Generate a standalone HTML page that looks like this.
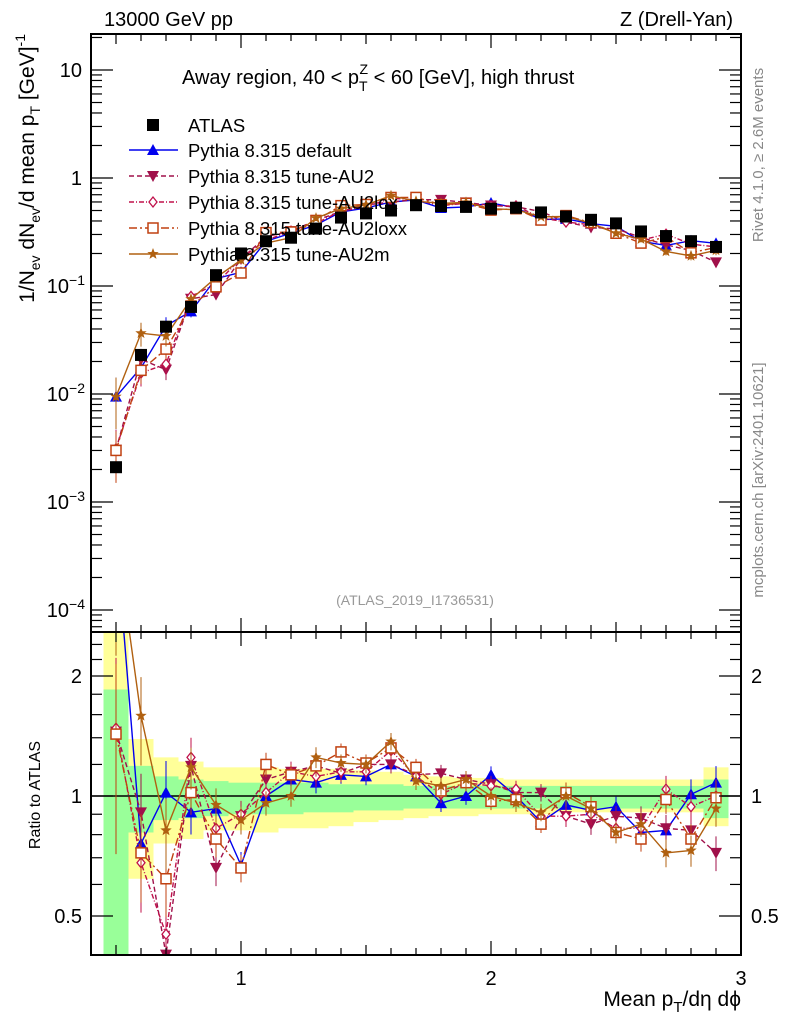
<!DOCTYPE html>
<html><head><meta charset="utf-8"><style>
body{margin:0;background:#fff;}
svg{display:block;font-family:"Liberation Sans","DejaVu Sans",sans-serif;}
</style></head><body>
<svg id="c" width="786" height="1024" viewBox="0 0 786 1024" xmlns="http://www.w3.org/2000/svg"></svg>
<script>
const xs=[0.5,0.6,0.7,0.8,0.9,1.0,1.1,1.2,1.3,1.4,1.5,1.6,1.7,1.8,1.9,2.0,2.1,2.2,2.3,2.4,2.5,2.6,2.7,2.8,2.9];
const dataVals=[0.0021,0.023,0.042,0.064,0.126,0.20,0.26,0.28,0.34,0.43,0.47,0.50,0.56,0.55,0.54,0.52,0.53,0.48,0.44,0.41,0.38,0.32,0.29,0.26,0.23];
const rDefault=[4.5,0.76,1.02,0.91,0.93,0.67,1.0,1.10,1.08,1.13,1.12,1.20,1.12,0.96,1.0,1.13,1.0,0.86,0.95,0.92,0.94,0.81,0.82,1.01,1.08];
const rAU2=[1.45,0.91,0.40,1.19,0.66,0.89,1.10,1.15,1.19,1.14,1.20,1.20,1.13,1.14,1.10,1.07,1.02,1.02,0.89,0.85,0.89,0.88,0.83,0.82,0.72];
const rAU2lox=[1.48,0.68,0.45,1.25,0.83,0.90,1.02,1.15,1.12,1.15,1.15,1.30,1.12,1.01,1.08,1.06,1.04,0.89,0.89,0.90,0.83,0.83,1.04,0.94,1.0];
const rAU2loxx=[1.43,0.72,0.62,1.02,0.78,0.66,1.20,1.13,1.19,1.29,1.21,1.32,1.18,1.03,1.08,0.97,0.98,0.85,1.02,0.94,0.81,0.78,0.98,0.78,0.99];
const rAU2m=[4.5,1.59,0.82,1.18,0.95,0.87,0.96,1.0,1.25,1.21,1.20,1.37,1.09,1.06,1.10,1.0,0.96,0.91,1.0,0.93,0.81,0.85,0.72,0.73,0.93];
const yellowUp=[2.6,1.39,1.25,1.22,1.18,1.18,1.18,1.17,1.17,1.17,1.16,1.15,1.13,1.12,1.11,1.11,1.10,1.10,1.10,1.10,1.10,1.10,1.10,1.10,1.18];
const yellowDn=[0.4,0.62,0.76,0.78,0.82,0.82,0.81,0.83,0.83,0.84,0.86,0.87,0.88,0.89,0.89,0.90,0.90,0.90,0.91,0.91,0.91,0.91,0.91,0.91,0.84];
const greenUp=[1.85,1.19,1.12,1.10,1.09,1.08,1.08,1.08,1.08,1.07,1.07,1.07,1.06,1.06,1.06,1.06,1.06,1.06,1.06,1.06,1.06,1.06,1.06,1.06,1.10];
const greenDn=[0.4,0.81,0.87,0.88,0.89,0.90,0.90,0.90,0.91,0.91,0.92,0.92,0.93,0.93,0.93,0.93,0.93,0.93,0.93,0.93,0.93,0.93,0.93,0.93,0.88];
const mcErr=[0.5,0.25,0.2,0.12,0.1,0.08,0.07,0.06,0.06,0.05,0.05,0.05,0.05,0.05,0.05,0.05,0.05,0.05,0.06,0.06,0.06,0.07,0.08,0.09,0.1];
const legendLabels=["ATLAS","Pythia 8.315 default","Pythia 8.315 tune-AU2","Pythia 8.315 tune-AU2lox","Pythia 8.315 tune-AU2loxx","Pythia 8.315 tune-AU2m"];

const L=91,R=741,T=34,MB=632,RB=955;
const X=v=>L+(v-0.4)*250;
const Y=v=>178-108*Math.log10(v);
const RY=v=>796-120*Math.log2(v);
const NS="http://www.w3.org/2000/svg";
const svg=document.getElementById('c');
function mk(tag,at,parent){const e=document.createElementNS(NS,tag);for(const k in at)e.setAttribute(k,at[k]);(parent||svg).appendChild(e);return e;}
function txt(s,x,y,size,extra,parent){const t=mk('text',Object.assign({x:x,y:y,'font-size':size},extra||{}),parent);t.innerHTML=s;return t;}

const defs=mk('defs',{});
const cp1=mk('clipPath',{id:'cm'},defs);mk('rect',{x:L,y:T,width:R-L,height:MB-T},cp1);
const cp2=mk('clipPath',{id:'cr'},defs);mk('rect',{x:L,y:MB,width:R-L,height:RB-MB},cp2);
const gMain=mk('g',{'clip-path':'url(#cm)'});


const gRat=mk('g',{'clip-path':'url(#cr)'});



xs.forEach((x,i)=>{
  const r1=mk('rect',{x:X(x-0.05),width:X(x+0.05)-X(x-0.05),y:RY(yellowUp[i]),height:RY(yellowDn[i])-RY(yellowUp[i]),fill:'#ffff99'},gRat);
  
  
  const r2=mk('rect',{x:X(x-0.05),width:X(x+0.05)-X(x-0.05),y:RY(greenUp[i]),height:RY(greenDn[i])-RY(greenUp[i]),fill:'#99ff99'},gRat);
  
  
});
mk('line',{x1:L,x2:R,y1:RY(1),y2:RY(1),stroke:'#000','stroke-width':1.5},gRat);

function marker(g,type,cx,cy,col){
  let e;
  if(type==='sq')e=mk('rect',{x:cx-6,y:cy-6,width:12,height:12,fill:'#000'},g);
  else if(type==='up')e=mk('polygon',{points:`${cx},${cy-6} ${cx-6},${cy+5} ${cx+6},${cy+5}`,fill:col},g);
  else if(type==='dn')e=mk('polygon',{points:`${cx},${cy+6} ${cx-6},${cy-5} ${cx+6},${cy-5}`,fill:col},g);
  else if(type==='dia')e=mk('polygon',{points:`${cx},${cy-5} ${cx-4},${cy} ${cx},${cy+5} ${cx+4},${cy}`,fill:'#fff',stroke:col,'stroke-width':1.3},g);
  else if(type==='osq')e=mk('rect',{x:cx-5,y:cy-5,width:10,height:10,fill:'#fff',stroke:col,'stroke-width':1.5},g);
  else{let p=[];for(let k=0;k<10;k++){const a=-Math.PI/2+k*Math.PI/5,rr=k%2?2.5:6;p.push((cx+rr*Math.cos(a)).toFixed(1)+','+(cy+rr*Math.sin(a)).toFixed(1));}e=mk('polygon',{points:p.join(' '),fill:col},g);}
  return e;
}
const series=[
 {n:'default',r:rDefault,col:'#0000ee',dash:'',m:'up'},
 {n:'au2',r:rAU2,col:'#a0104a',dash:'5,3',m:'dn'},
 {n:'au2lox',r:rAU2lox,col:'#c0104a',dash:'5,2,1,2',m:'dia'},
 {n:'au2loxx',r:rAU2loxx,col:'#c04010',dash:'8,3,2,3',m:'osq'},
 {n:'au2m',r:rAU2m,col:'#b06010',dash:'',m:'star'}
];
series.forEach(s=>{
  const vals=s.r.map((r,i)=>r*dataVals[i]);
  const ptsM=xs.map((x,i)=>X(x)+','+Y(vals[i]).toFixed(1)).join(' ');
  const ptsR=xs.map((x,i)=>X(x)+','+RY(s.r[i]).toFixed(1)).join(' ');
  const l1=mk('polyline',{points:ptsM,fill:'none',stroke:s.col,'stroke-width':1.4,'stroke-dasharray':s.dash},gMain);
  
  
  const l2=mk('polyline',{points:ptsR,fill:'none',stroke:s.col,'stroke-width':1.4,'stroke-dasharray':s.dash},gRat);
  
  
  xs.forEach((x,i)=>{
    const e=mcErr[i];
    mk('line',{x1:X(x),x2:X(x),y1:Y(vals[i]*(1+e)),y2:Y(vals[i]*Math.max(0.05,1-e)),stroke:s.col,'stroke-width':1},gMain);
    mk('line',{x1:X(x),x2:X(x),y1:RY(s.r[i]*(1+e)),y2:RY(s.r[i]*Math.max(0.05,1-e)),stroke:s.col,'stroke-width':1},gRat);
    const m1=marker(gMain,s.m,X(x),Y(vals[i]),s.col);
    
    
    const m2=marker(gRat,s.m,X(x),RY(s.r[i]),s.col);
    
    
  });
});
xs.forEach((x,i)=>{
  const m=marker(gMain,'sq',X(x),Y(dataVals[i]),'#000');
  
  
});

mk('rect',{x:L,y:T,width:R-L,height:MB-T,fill:'none',stroke:'#000','stroke-width':2});
mk('rect',{x:L,y:MB,width:R-L,height:RB-MB,fill:'none',stroke:'#000','stroke-width':2});

for(let v=0.4;v<=3.001;v+=0.1){
  const big=Math.abs(v-Math.round(v))<1e-6, mid=Math.abs(v*2-Math.round(v*2))<1e-6;
  const len=big?14:(mid?10:7);
  [[T,1],[MB,-1],[MB,1],[RB,-1]].forEach(([y0,d])=>mk('line',{x1:X(v),x2:X(v),y1:y0,y2:y0+d*len,stroke:'#000','stroke-width':1.2}));
}
['1','2','3'].forEach((s,i)=>{const t=txt(s,X(i+1),985,20,{'text-anchor':'middle'});});

for(let d=-5;d<=1;d++){for(let k=1;k<10;k++){const v=k*Math.pow(10,d);const y=Y(v);if(y<T||y>MB)continue;const len=k===1?22:11;
 mk('line',{x1:L,x2:L+len,y1:y,y2:y,stroke:'#000','stroke-width':1.2});mk('line',{x1:R,x2:R-len,y1:y,y2:y,stroke:'#000','stroke-width':1.2});}}
const yl=[['10',70],['1',178],['10<tspan dy="-8" font-size="14">−1</tspan>',286],['10<tspan dy="-8" font-size="14">−2</tspan>',394],['10<tspan dy="-8" font-size="14">−3</tspan>',502],['10<tspan dy="-8" font-size="14">−4</tspan>',610]];
yl.forEach(([s,y])=>{const t=txt(s,(y===70||y===178)?82:85,y+7,20,{'text-anchor':'end'});});

[0.4,0.5,0.6,0.7,0.8,0.9,1,1.2,1.4,1.6,1.8,2,2.2,2.4].forEach(v=>{const y=RY(v);const big=(v===0.5||v===1||v===2);const len=big?22:11;
 mk('line',{x1:L,x2:L+len,y1:y,y2:y,stroke:'#000','stroke-width':1.2});mk('line',{x1:R,x2:R-len,y1:y,y2:y,stroke:'#000','stroke-width':1.2});});
[['2',2],['1',1],['0.5',0.5]].forEach(([s,v])=>{
 const a=txt(s,82,RY(v)+7,20,{'text-anchor':'end'});
 const b=txt(s,751,RY(v)+7,20,{});});

let t;
t=txt('13000 GeV pp',104,26,20);
t=txt('Z (Drell-Yan)',733,26,20,{'text-anchor':'end'});
t=txt('Away region, 40 &lt; p<tspan dy="7" font-size="14">T</tspan><tspan dy="-17" dx="-8" font-size="14">Z</tspan><tspan dy="10"> &lt; 60 [GeV], high thrust</tspan>',182,84,20);
t=txt('(ATLAS_2019_I1736531)',415,605,14,{'text-anchor':'middle',fill:'#999'});
t=txt('Rivet 4.1.0, ≥ 2.6M events',0,0,15,{fill:'#888','text-anchor':'middle',transform:'translate(763,155) rotate(-90)'});
t=txt('mcplots.cern.ch [arXiv:2401.10621]',0,0,15,{fill:'#888','text-anchor':'middle',transform:'translate(763,480) rotate(-90)'});
t=txt('1/N<tspan dy="6" font-size="14">ev</tspan><tspan dy="-6"> dN</tspan><tspan dy="6" font-size="14">ev</tspan><tspan dy="-6">/d mean p</tspan><tspan dy="6" font-size="14">T</tspan><tspan dy="-6"> [GeV]</tspan><tspan dy="-9" font-size="14">-1</tspan>',0,0,21,{'text-anchor':'end',transform:'translate(34,34) rotate(-90)'});
t=txt('Ratio to ATLAS',0,0,16,{'text-anchor':'middle',transform:'translate(40,795) rotate(-90)'});
t=txt('Mean p<tspan dy="6" font-size="15">T</tspan><tspan dy="-6">/dη dϕ</tspan>',741,1006,21,{'text-anchor':'end'});

const ly=[125,150,176,202,228,254];
const lg=mk('g',{});


marker(lg,'sq',153,ly[0],'#000');
series.forEach((s,i)=>{const y=ly[i+1];mk('line',{x1:129,x2:178,y1:y,y2:y,stroke:s.col,'stroke-width':1.4,'stroke-dasharray':s.dash},lg);marker(lg,s.m,153,y,s.col);});
legendLabels.forEach((s,i)=>{const e=txt(s,188,ly[i]+7,18.5,{},lg);});
</script>
</body></html>
